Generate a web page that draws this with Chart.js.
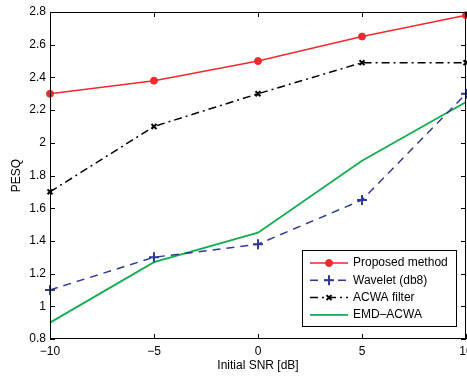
<!DOCTYPE html>
<html><head><meta charset="utf-8">
<script src="https://cdn.jsdelivr.net/npm/chart.js@4/dist/chart.umd.min.js"></script>
<style>html,body{margin:0;padding:0;overflow:hidden;background:#fff;width:467px;height:376px}
#wrap{position:absolute;left:0;top:0;width:480px;height:376px}</style>
</head><body><div id="wrap"><canvas id="c" width="480" height="376"></canvas></div>
<script>
const snr = [-10, -5, 0, 5, 10];
const proposed = [2.30, 2.38, 2.50, 2.65, 2.78];
const wavelet = [1.10, 1.30, 1.38, 1.65, 2.30];
const acwa = [1.70, 2.10, 2.30, 2.49, 2.49];
const emdAcwa = [0.90, 1.27, 1.45, 1.89, 2.25];
const seriesNames = ['Proposed method', 'Wavelet (db8)', 'ACWA filter', 'EMD\u2013ACWA'];
const xTitle = 'Initial SNR [dB]';
const yTitle = 'PESQ';

const pts = arr => snr.map((x, i) => ({x, y: arr[i]}));
const FONT = '"Liberation Sans", Arial, sans-serif';

const frame = {
  id: 'frame',
  afterDatasetsDraw(chart) {
    const {ctx, chartArea: a, scales: {x, y}} = chart;
    ctx.save();
    ctx.strokeStyle = '#000';
    ctx.lineWidth = 1;
    ctx.strokeRect(a.left + 0.5, a.top + 0.5, a.right - a.left - 1, a.bottom - a.top - 1);
    const L = 5;
    ctx.beginPath();
    x.ticks.forEach(t => {
      const px = Math.round(x.getPixelForValue(t.value)) + 0.5;
      ctx.moveTo(px, a.bottom); ctx.lineTo(px, a.bottom - L);
      ctx.moveTo(px, a.top); ctx.lineTo(px, a.top + L);
    });
    y.ticks.forEach(t => {
      const py = Math.round(y.getPixelForValue(t.value)) + 0.5;
      ctx.moveTo(a.left, py); ctx.lineTo(a.left + L, py);
      ctx.moveTo(a.right, py); ctx.lineTo(a.right - L, py);
    });
    ctx.stroke();
    // legend
    const bx = 302, by = 250, bw = 154, bh = 76;
    ctx.fillStyle = '#fff';
    ctx.fillRect(bx, by, bw, bh);
    ctx.strokeRect(bx + 0.5, by + 0.5, bw, bh);
    ctx.font = '12px ' + FONT;
    ctx.textBaseline = 'middle';
    ctx.textAlign = 'left';
    chart.data.datasets.forEach((ds, i) => {
      const yy = by + 13 + i * 17.3;
      ctx.save();
      ctx.strokeStyle = ds.borderColor;
      ctx.lineWidth = ds.borderWidth;
      ctx.setLineDash(ds.borderDash || []);
      ctx.beginPath(); ctx.moveTo(310, yy); ctx.lineTo(348, yy); ctx.stroke();
      ctx.setLineDash([]);
      if (ds.pointRadius > 0) {
        ctx.fillStyle = ds.pointBackgroundColor;
        ctx.strokeStyle = ds.pointBorderColor;
        ctx.lineWidth = ds.pointBorderWidth;
        Chart.helpers.drawPoint(ctx, {pointStyle: ds.pointStyle, radius: ds.pointRadius, borderWidth: ds.pointBorderWidth, rotation: 0}, 329, yy);
      }
      ctx.restore();
      ctx.fillStyle = '#000';
      ctx.fillText(ds.label, 353, yy);
    });
    ctx.restore();
  }
};

new Chart(document.getElementById('c'), {
  type: 'line',
  data: {
    datasets: [
      {label: seriesNames[0], data: pts(proposed), borderColor: '#ee2a2f', backgroundColor: '#ee2a2f',
       borderWidth: 1.5, pointStyle: 'circle', pointRadius: 3.5, pointBackgroundColor: '#ee2a2f', pointBorderColor: '#ee2a2f', pointBorderWidth: 1},
      {label: seriesNames[1], data: pts(wavelet), borderColor: '#2e3a96', backgroundColor: '#2e3a96',
       borderWidth: 1.5, borderDash: [8, 6], pointStyle: 'cross', pointRadius: 5, pointBorderColor: '#2e3a96', pointBackgroundColor: '#2e3a96', pointBorderWidth: 2},
      {label: seriesNames[2], data: pts(acwa), borderColor: '#000', backgroundColor: '#000',
       borderWidth: 1.5, borderDash: [8, 4, 2, 4], pointStyle: 'crossRot', pointRadius: 3.5, pointBorderColor: '#000', pointBackgroundColor: '#000', pointBorderWidth: 2},
      {label: seriesNames[3], data: pts(emdAcwa), borderColor: '#11ad4f', backgroundColor: '#11ad4f',
       borderWidth: 1.8, pointRadius: 0, pointBorderWidth: 1}
    ]
  },
  options: {
    responsive: false, animation: false,
    layout: {padding: {top: 12, right: 14, left: 0, bottom: 0}},
    elements: {line: {tension: 0}},
    datasets: {line: {clip: false}},
    plugins: {legend: {display: false}, tooltip: {enabled: false}},
    scales: {
      x: {type: 'linear', min: -10, max: 10,
          ticks: {stepSize: 5, color: '#000', padding: 5, font: {family: FONT, size: 12},
                  callback: v => String(v).replace('-', '\u2212')},
          grid: {display: false, drawTicks: false}, border: {display: false},
          title: {display: true, text: xTitle, color: '#000', font: {family: FONT, size: 12}, padding: {top: 0, bottom: 3}},
          afterFit: s => { s.height = 37; }},
      y: {type: 'linear', min: 0.8, max: 2.8,
          ticks: {stepSize: 0.2, color: '#000', padding: 4, font: {family: FONT, size: 12},
                  callback: v => String(Math.round(v * 10) / 10)},
          grid: {display: false, drawTicks: false}, border: {display: false},
          title: {display: true, text: yTitle, color: '#000', font: {family: FONT, size: 12}, padding: {top: 9, bottom: 0}},
          afterFit: s => { s.width = 50; }}
    }
  },
  plugins: [frame]
});
</script></body></html>
